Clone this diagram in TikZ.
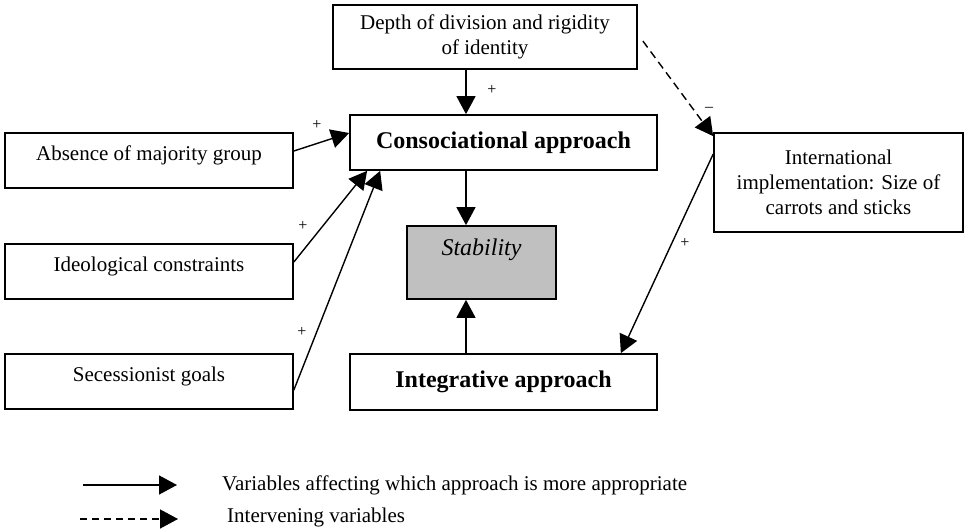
\documentclass[tikz,border=0pt]{standalone}
\usepackage{fontspec}
\setmainfont{Liberation Serif}
\usetikzlibrary{arrows.meta,calc}
\definecolor{silverfill}{RGB}{192,192,192}
\begin{document}
\begin{tikzpicture}[x=1pt,y=-1pt,
  box/.style={draw, line width=1.7pt, rectangle, inner sep=0pt, align=center,
    font=\fontsize{21}{25}\selectfont},
  sidebox/.style={box, minimum width=288pt, minimum height=55pt, text height=10pt, text depth=10pt},
  bigbox/.style={box, minimum width=307pt, font=\fontsize{24}{28}\selectfont\bfseries},
  arr/.style={line width=1.4pt, -{Triangle[length=18pt,width=19pt]}},
  dasharr/.style={arr, dash pattern=on 8pt off 5pt},
  sign/.style={font=\fontsize{16}{16}\selectfont, inner sep=0pt},
  legtext/.style={anchor=west, inner sep=0pt, font=\fontsize{21}{25}\selectfont}
]
\useasboundingbox (0,0) rectangle (964,529);

% boxes
\node[box, minimum width=304pt, minimum height=64pt] (top) at (485,37)
  {Depth of division and rigidity\\of identity};
\node[bigbox, minimum height=55pt] (consoc) at (503.5,142.5) {Consociational approach};
\node[sidebox] (absence) at (149,160.5) {Absence of majority group};
\node[sidebox] (ideo) at (149,271.5) {Ideological constraints};
\node[sidebox] (secess) at (149,381.5) {Secessionist goals};
\node[box, fill=silverfill, minimum width=149pt, minimum height=73pt,
  font=\fontsize{24}{28}\selectfont\itshape, text height=12pt, text depth=25pt]
  (stab) at (481.5,262.5) {Stability};
\node[bigbox, minimum height=56pt] (integ) at (503.5,382) {Integrative approach};
\node[box, minimum width=249pt, minimum height=99pt] (intl) at (838.5,182.5)
  {International\\implementation: Size of\\carrots and sticks};

% connectors
\coordinate (col) at (466,0);
\draw[arr] (top.south -| col) -- (consoc.north -| col);
\draw[arr] (consoc.south -| col) -- (stab.north -| col);
\draw[arr] (integ.north -| col) -- (stab.south -| col);
\draw[arr] ($(absence.east)+(0,-9.5)$) -- ($(consoc.west)+(0,-9.5)$);
\draw[arr] ($(ideo.east)+(0,-9.5)$) -- ($(consoc.south west)+(18,0)$);
\draw[arr] ($(secess.east)+(0,8.5)$) -- ($(consoc.south west)+(31,0)$);
\draw[dasharr] ($(top.east)+(5,4)$) -- ($(intl.north west)+(0,4)$);
\draw[arr] ($(intl.north west)+(0,22)$) -- ($(integ.north east)+(-37,0)$);

% signs
\node[sign] (p1) at (492,90) {+};
\node[sign] (p2) at (317,125) {+};
\node[sign] (p3) at (303,226) {+};
\node[sign] (p4) at (302,332) {+};
\node[sign] (p5) at (685,243) {+};
\node[sign] (m1) at (709,109) {\textendash};

% legend
\coordinate (s1) at (83,485);
\coordinate (e1) at (177,485);
\draw[arr] (s1) -- (e1);
\coordinate (s2) at (80,519);
\coordinate (e2) at (178,519);
\draw[arr, dash pattern=on 7pt off 5pt] (s2) -- (e2);
\node[legtext] (leg1) at (222,485) {Variables affecting which approach is more appropriate};
\node[legtext] (leg2) at (227,517) {Intervening variables};
\end{tikzpicture}
\end{document}
